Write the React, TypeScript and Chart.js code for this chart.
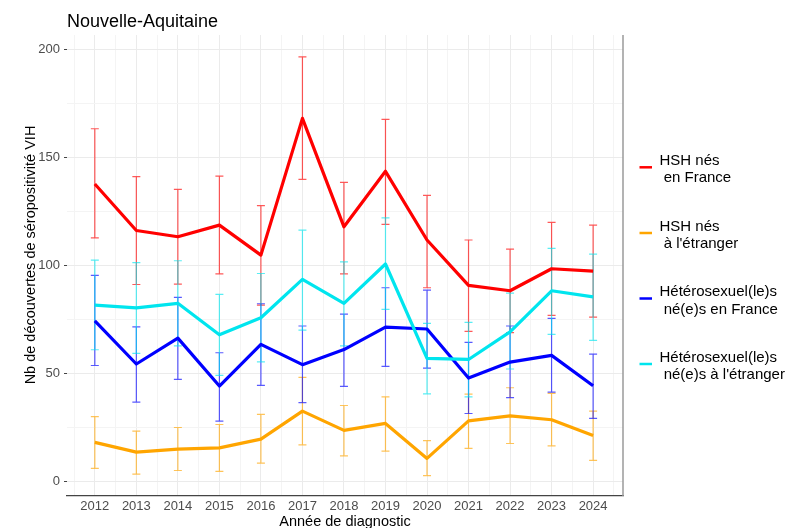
import React, { useEffect, useRef } from "react";
import { Chart, registerables } from "chart.js";

Chart.register(...registerables);

const years = [2012, 2013, 2014, 2015, 2016, 2017, 2018, 2019, 2020, 2021, 2022, 2023, 2024];

const hshFrance = [137.5, 116.0, 113.1, 118.5, 104.6, 167.9, 117.7, 143.4, 111.6, 90.6, 88.1, 98.3, 97.2];
const hshFranceLow = [112.6, 91.0, 91.2, 95.9, 81.5, 139.7, 95.9, 118.8, 89.5, 69.3, 68.7, 76.7, 75.9];
const hshFranceHigh = [163.1, 140.9, 135.0, 141.2, 127.5, 196.4, 138.3, 167.4, 132.3, 111.6, 107.4, 119.8, 118.5];

const hshEtranger = [17.9, 13.4, 14.8, 15.4, 19.4, 32.4, 23.5, 26.7, 10.5, 27.9, 30.2, 28.4, 21.1];
const hshEtrangerLow = [5.9, 3.2, 4.9, 4.5, 8.3, 16.8, 11.7, 13.9, 2.5, 15.1, 17.4, 16.3, 9.6];
const hshEtrangerHigh = [29.8, 23.1, 24.8, 26.2, 30.9, 48.0, 35.0, 39.0, 18.7, 40.3, 43.2, 40.6, 32.4];

const heteroFrance = [74.2, 54.2, 66.2, 44.0, 63.3, 53.9, 60.9, 71.3, 70.4, 47.7, 55.1, 58.2, 44.1];
const heteroFranceLow = [53.5, 36.6, 47.1, 27.8, 44.3, 36.3, 43.8, 53.1, 52.3, 31.3, 38.6, 41.2, 29.0];
const heteroFranceHigh = [95.2, 71.4, 85.0, 59.4, 82.1, 71.8, 77.3, 89.5, 88.4, 64.2, 71.8, 75.3, 58.8];

const heteroEtranger = [81.5, 80.2, 82.3, 67.7, 75.6, 93.4, 82.3, 100.5, 56.8, 56.3, 69.1, 88.1, 85.3];
const heteroEtrangerLow = [60.8, 59.1, 62.6, 48.9, 55.2, 69.9, 62.6, 79.5, 40.4, 39.0, 51.9, 67.9, 65.1];
const heteroEtrangerHigh = [102.3, 101.1, 102.0, 86.4, 96.1, 116.2, 101.5, 121.8, 73.0, 73.5, 87.0, 107.7, 105.1];

const yTickValues = [0, 50, 100, 150, 200];
const legendLabels = [
  ["HSH nés", " en France"],
  ["HSH nés", " à l'étranger"],
  ["Hétérosexuel(le)s", " né(e)s en France"],
  ["Hétérosexuel(le)s", " né(e)s à l'étranger"],
];
const colors = ["#FF0000", "#FFA500", "#0000FF", "#00E5EE"];
const errColors = ["rgba(255,0,0,0.65)", "rgba(255,165,0,0.65)", "rgba(0,0,255,0.65)", "rgba(0,229,238,0.65)"];

const seriesValues = [hshFrance, hshEtranger, heteroFrance, heteroEtranger];
const seriesLow = [hshFranceLow, hshEtrangerLow, heteroFranceLow, heteroEtrangerLow];
const seriesHigh = [hshFranceHigh, hshEtrangerHigh, heteroFranceHigh, heteroEtrangerHigh];

const FONT = "'Liberation Sans', Arial, sans-serif";

const errorBarPlugin = {
  id: "errorBars",
  beforeDatasetsDraw(chart: any) {
    const ctx = chart.ctx;
    const xs = chart.scales.x;
    const ys = chart.scales.y;
    ctx.save();
    ctx.lineWidth = 1.2;
    for (let s = 0; s < seriesValues.length; s++) {
      ctx.strokeStyle = errColors[s];
      for (let i = 0; i < years.length; i++) {
        const x = xs.getPixelForValue(years[i]);
        const yl = ys.getPixelForValue(seriesLow[s][i]);
        const yh = ys.getPixelForValue(seriesHigh[s][i]);
        ctx.beginPath();
        ctx.moveTo(x, yl);
        ctx.lineTo(x, yh);
        ctx.moveTo(x - 4, yl);
        ctx.lineTo(x + 4, yl);
        ctx.moveTo(x - 4, yh);
        ctx.lineTo(x + 4, yh);
        ctx.stroke();
      }
    }
    ctx.restore();
  },
};

const decorPlugin = {
  id: "decor",
  afterDraw(chart: any) {
    const ctx = chart.ctx;
    const area = chart.chartArea;
    ctx.save();
    ctx.strokeStyle = "#9a9a9a";
    ctx.lineWidth = 1.5;
    ctx.beginPath();
    ctx.moveTo(area.right, area.top);
    ctx.lineTo(area.right, area.bottom);
    ctx.stroke();

    ctx.fillStyle = "#000";
    ctx.font = `18px ${FONT}`;
    ctx.textAlign = "left";
    ctx.textBaseline = "alphabetic";
    ctx.fillText("Nouvelle-Aquitaine", 67, 27);

    ctx.font = `14.5px ${FONT}`;
    ctx.textAlign = "center";
    ctx.fillText("Année de diagnostic", (area.left + area.right) / 2, 526);

    ctx.save();
    ctx.translate(31, 255);
    ctx.rotate(-Math.PI / 2);
    ctx.textBaseline = "middle";
    ctx.fillText("Nb de découvertes de séropositivité VIH", 0, 0);
    ctx.restore();

    const keyY = [167.3, 233, 298.5, 364];
    ctx.font = `15px ${FONT}`;
    ctx.textAlign = "left";
    ctx.textBaseline = "alphabetic";
    for (let k = 0; k < legendLabels.length; k++) {
      ctx.strokeStyle = colors[k];
      ctx.lineWidth = 2.5;
      ctx.beginPath();
      ctx.moveTo(639.5, keyY[k]);
      ctx.lineTo(652, keyY[k]);
      ctx.stroke();
      ctx.fillStyle = "#000";
      ctx.fillText(legendLabels[k][0], 659.5, keyY[k] - 2.3);
      ctx.fillText(legendLabels[k][1], 659.5, keyY[k] + 15);
    }
    ctx.restore();
  },
};

export default function App() {
  const ref = useRef<HTMLCanvasElement>(null);
  useEffect(() => {
    if (!ref.current) return;
    const orders = [3, 2, 1, 0];
    const chart = new Chart(ref.current, {
      type: "line",
      data: {
        datasets: seriesValues.map((vals, s) => ({
          label: legendLabels[s].join(""),
          data: years.map((yr, i) => ({ x: yr, y: vals[i] })),
          borderColor: colors[s],
          backgroundColor: colors[s],
          borderWidth: 3.2,
          pointRadius: 0,
          tension: 0,
          fill: false,
          borderJoinStyle: "round" as const,
          order: orders[s],
        })),
      },
      options: {
        responsive: false,
        animation: false,
        devicePixelRatio: 1,
        layout: { padding: { left: 0, top: 35, right: 171, bottom: 0 } },
        plugins: {
          legend: { display: false },
          title: { display: false },
          tooltip: { enabled: false },
        },
        scales: {
          x: {
            type: "linear",
            min: 2011.33,
            max: 2024.72,
            afterFit: (s: any) => {
              s.height = 32;
            },
            afterBuildTicks: (s: any) => {
              const t: any[] = [];
              for (let i = 0; i < years.length; i++) {
                t.push({ value: years[i] - 0.5 });
                t.push({ value: years[i] });
              }
              t.push({ value: years[years.length - 1] + 0.5 });
              s.ticks = t;
            },
            ticks: {
              autoSkip: false,
              maxRotation: 0,
              padding: 1,
              color: "#4d4d4d",
              font: { family: FONT, size: 13 },
              callback: (v: any) => (years.includes(Number(v)) ? String(v) : ""),
            },
            grid: {
              color: (c: any) => (years.includes(c.tick?.value) ? "#ebebeb" : "#f4f4f4"),
              tickColor: "rgba(0,0,0,0)",
              tickLength: 2,
              lineWidth: 1,
            },
            border: { display: true, color: "#444", width: 1.2 },
          },
          y: {
            type: "linear",
            min: -6.9,
            max: 206.5,
            afterFit: (s: any) => {
              s.width = 67;
            },
            afterBuildTicks: (s: any) => {
              const t: any[] = [];
              for (let i = 0; i < yTickValues.length; i++) {
                t.push({ value: yTickValues[i] });
                if (i < yTickValues.length - 1) t.push({ value: (yTickValues[i] + yTickValues[i + 1]) / 2 });
              }
              s.ticks = t;
            },
            ticks: {
              autoSkip: false,
              padding: 4,
              color: "#4d4d4d",
              font: { family: FONT, size: 13 },
              callback: (v: any) => (yTickValues.includes(Number(v)) ? String(v) : ""),
            },
            grid: {
              color: (c: any) => (yTickValues.includes(c.tick?.value) ? "#ebebeb" : "#f4f4f4"),
              tickColor: (c: any) => (yTickValues.includes(c.tick?.value) ? "#444" : "rgba(0,0,0,0)"),
              tickLength: 3,
              lineWidth: 1,
            },
            border: { display: false },
          },
        },
      },
      plugins: [errorBarPlugin, decorPlugin],
    } as any);
    return () => chart.destroy();
  }, []);
  return (
    <div style={{ position: "absolute", left: 0, top: 0, width: 794, height: 528, background: "#fff" }}>
      <canvas ref={ref} width={794} height={528} />
    </div>
  );
}
